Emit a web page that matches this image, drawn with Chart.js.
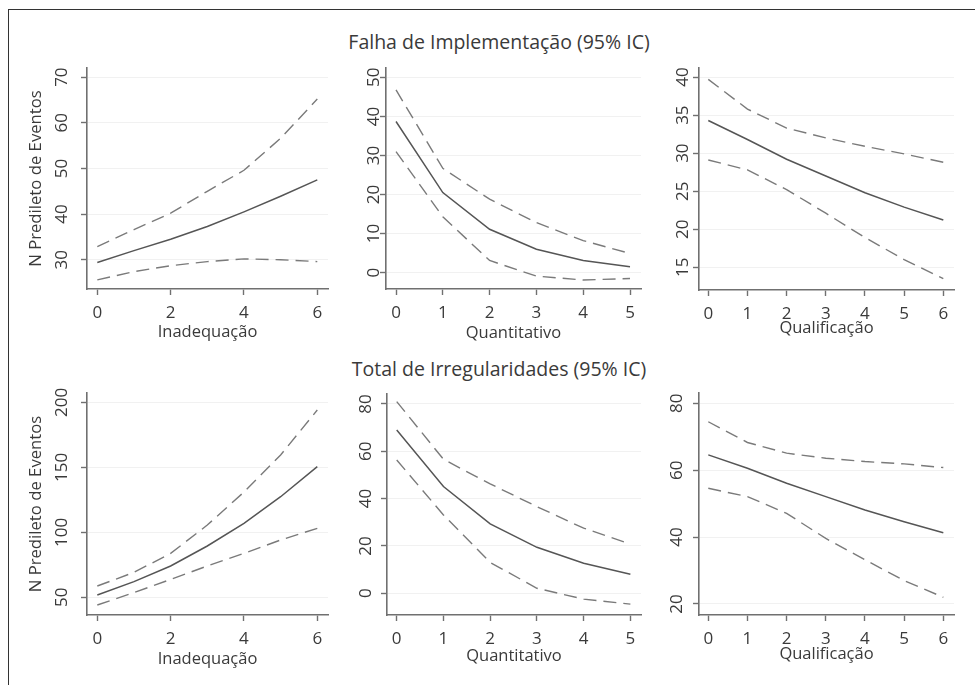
<!DOCTYPE html>
<html>
<head>
<meta charset="utf-8">
<script src="https://cdn.jsdelivr.net/npm/chart.js@4"></script>
<style>
  body { margin: 0; background: #fff; }
  #page { position: relative; width: 975px; height: 685px; overflow: hidden; font-family: 'Open Sans', sans-serif; }
  #frame { position: absolute; left: 8px; top: 9px; right: -5px; bottom: -5px; border-top: 1.4px solid #333; border-left: 1.4px solid #333; }
  .title { position: absolute; left: 0; width: 998px; text-align: center; font-size: 19.5px; color: #3a3a3a; line-height: 22px; }
  canvas { position: absolute; }
</style>
</head>
<body>
<div id="page">
  <div id="frame"></div>
  <div class="title" style="top:31px">Falha de Implementação (95% IC)</div>
  <div class="title" style="top:358px">Total de Irregularidades (95% IC)</div>
</div>
<script>
// categorias (eixo x)
const catsInad = [0, 1, 2, 3, 4, 5, 6];
const catsQuant = [0, 1, 2, 3, 4, 5];
const catsQual = [0, 1, 2, 3, 4, 5, 6];

const xTicksInad = [0, 2, 4, 6];
const xTicksQuant = [0, 1, 2, 3, 4, 5];
const xTicksQual = [0, 1, 2, 3, 4, 5, 6];

// Falha de Implementação
const falhaInadFit = [29.4, 32.0, 34.5, 37.3, 40.5, 43.9, 47.5];
const falhaInadHi  = [32.9, 36.6, 40.2, 45.0, 49.6, 56.6, 65.2];
const falhaInadLo  = [25.6, 27.4, 28.7, 29.6, 30.2, 30.0, 29.6];
const falhaQuantFit = [38.7, 20.5, 11.1, 6.0, 3.1, 1.5];
const falhaQuantHi  = [46.8, 26.7, 18.8, 12.8, 8.2, 4.9];
const falhaQuantLo  = [31.0, 14.3, 3.1, -0.9, -1.9, -1.5];
const falhaQualFit = [34.3, 31.8, 29.2, 27.0, 24.8, 22.9, 21.2];
const falhaQualHi  = [39.7, 35.8, 33.3, 32.0, 30.9, 29.9, 28.8];
const falhaQualLo  = [29.1, 27.8, 25.2, 22.1, 18.9, 16.0, 13.5];

// Total de Irregularidades
const totalInadFit = [51.8, 62.1, 74.1, 89.5, 106.9, 127.4, 150.5];
const totalInadHi  = [58.7, 69.2, 83.8, 105.6, 131.0, 159.5, 194.1];
const totalInadLo  = [44.1, 53.6, 63.8, 74.1, 83.8, 94.1, 103.1];
const totalQuantFit = [69.0, 45.1, 29.3, 19.4, 12.7, 8.0];
const totalQuantHi  = [81.0, 56.6, 46.2, 36.6, 27.5, 20.8];
const totalQuantLo  = [56.3, 33.1, 13.0, 2.1, -2.5, -4.6];
const totalQualFit = [64.6, 60.6, 56.1, 52.1, 48.1, 44.6, 41.3];
const totalQualHi  = [74.5, 68.3, 65.1, 63.6, 62.6, 61.9, 60.8];
const totalQualLo  = [54.6, 52.1, 47.1, 39.6, 33.2, 27.0, 22.0];

const yTicks1 = [30, 40, 50, 60, 70];
const yTicks2 = [0, 10, 20, 30, 40, 50];
const yTicks3 = [15, 20, 25, 30, 35, 40];
const yTicks4 = [50, 100, 150, 200];
const yTicks5 = [0, 20, 40, 60, 80];
const yTicks6 = [20, 40, 60, 80];

const yTitle = 'N Predileto de Eventos';

const panels = [
  { cats: catsInad, fit: falhaInadFit, hi: falhaInadHi, lo: falhaInadLo, xt: xTicksInad, yt: yTicks1, xl: 'Inadequação', yl: yTitle,
    area: [87, 68, 328, 289], x: [-0.281, 6.292], y: [23.6, 72.0], yW: 77, tickPad: 9.3, titleB: 6.4 },
  { cats: catsQuant, fit: falhaQuantFit, hi: falhaQuantHi, lo: falhaQuantLo, xt: xTicksQuant, yt: yTicks2, xl: 'Quantitativo', yl: null,
    area: [386, 68, 641, 289], x: [-0.214, 5.235], y: [-4.2, 52.4], yW: 50, tickPad: -4, titleB: 5.4 },
  { cats: catsQual, fit: falhaQualFit, hi: falhaQualHi, lo: falhaQualLo, xt: xTicksQual, yt: yTicks3, xl: 'Qualificação', yl: null,
    area: [699, 68, 954, 290], x: [-0.237, 6.273], y: [12.0, 41.2], yW: 50, tickPad: 0.3, titleB: 11.4 },
  { cats: catsInad, fit: totalInadFit, hi: totalInadHi, lo: totalInadLo, xt: xTicksInad, yt: yTicks4, xl: 'Inadequação', yl: yTitle,
    area: [87, 393, 328, 615], x: [-0.281, 6.292], y: [36.4, 207.2], yW: 77, tickPad: 4.3, titleB: 5.4 },
  { cats: catsQuant, fit: totalQuantFit, hi: totalQuantHi, lo: totalQuantLo, xt: xTicksQuant, yt: yTicks5, xl: 'Quantitativo', yl: null,
    area: [387, 394, 641, 615], x: [-0.208, 5.227], y: [-9.2, 84.2], yW: 50, tickPad: 5.3, titleB: 8.4 },
  { cats: catsQual, fit: totalQualFit, hi: totalQualHi, lo: totalQualLo, xt: xTicksQual, yt: yTicks6, xl: 'Qualificação', yl: null,
    area: [699, 393, 954, 615], x: [-0.237, 6.273], y: [16.7, 83.1], yW: 50, tickPad: 6.5, titleB: 10.4 }
];

Chart.defaults.font.family = "'Open Sans', sans-serif";
Chart.defaults.color = '#3a3a3a';

const axisColor = '#707070';
const tickFont = { size: 17 };
const titleFont = { size: 16.5 };
const padTop = 10, padRight = 8, xH = 60;

const page = document.getElementById('page');

panels.forEach(p => {
  const [aL, aT, aR, aB] = p.area;
  const cv = document.createElement('canvas');
  const w = p.yW + (aR - aL) + padRight;
  const h = padTop + (aB - aT) + xH;
  cv.width = w; cv.height = h;
  cv.style.left = (aL - p.yW) + 'px';
  cv.style.top = (aT - padTop) + 'px';
  cv.style.width = w + 'px'; cv.style.height = h + 'px';
  page.appendChild(cv);

  const pts = arr => p.cats.map((c, i) => ({ x: c, y: arr[i] }));
  const line = (arr, dashed) => ({
    data: pts(arr),
    borderColor: dashed ? '#7a7a7a' : '#555',
    borderWidth: dashed ? 1.4 : 1.5,
    borderDash: dashed ? [13, 7] : [],
    pointRadius: 0,
    tension: 0,
    fill: false
  });

  new Chart(cv.getContext('2d'), {
    type: 'line',
    data: { datasets: [line(p.hi, true), line(p.lo, true), line(p.fit, false)] },
    options: {
      responsive: false,
      animation: false,
      devicePixelRatio: 1,
      layout: { padding: { top: padTop, right: padRight, left: 0, bottom: 0 } },
      plugins: { legend: { display: false }, tooltip: { enabled: false } },
      scales: {
        x: {
          type: 'linear', min: p.x[0], max: p.x[1], bounds: 'data',
          afterBuildTicks: s => { s.ticks = p.xt.map(v => ({ value: v })); },
          afterFit: s => { s.height = xH; s.paddingLeft = 0; s.paddingRight = 0; },
          grid: { drawOnChartArea: false, tickLength: 6, tickColor: axisColor, tickWidth: 1.4 },
          border: { color: axisColor, width: 1.6 },
          ticks: { font: tickFont, padding: 8, maxRotation: 0, callback: v => String(v) },
          title: { display: true, text: p.xl, font: titleFont, padding: { top: 0, bottom: p.titleB } }
        },
        y: {
          type: 'linear', min: p.y[0], max: p.y[1], bounds: 'data',
          afterBuildTicks: s => { s.ticks = p.yt.map(v => ({ value: v })); },
          afterFit: s => { s.width = p.yW; s.paddingTop = 0; s.paddingBottom = 0; },
          grid: { color: '#f1f1f1', lineWidth: 1, tickLength: 6, tickColor: axisColor, tickWidth: 1.4 },
          border: { color: axisColor, width: 1.6 },
          ticks: { font: tickFont, minRotation: 90, maxRotation: 90, crossAlign: 'center', padding: p.tickPad, callback: v => String(v) },
          title: { display: !!p.yl, text: p.yl || '', font: { size: 16.7 }, padding: { top: 16, bottom: 0 } }
        }
      }
    }
  });
});
</script>
</body>
</html>
